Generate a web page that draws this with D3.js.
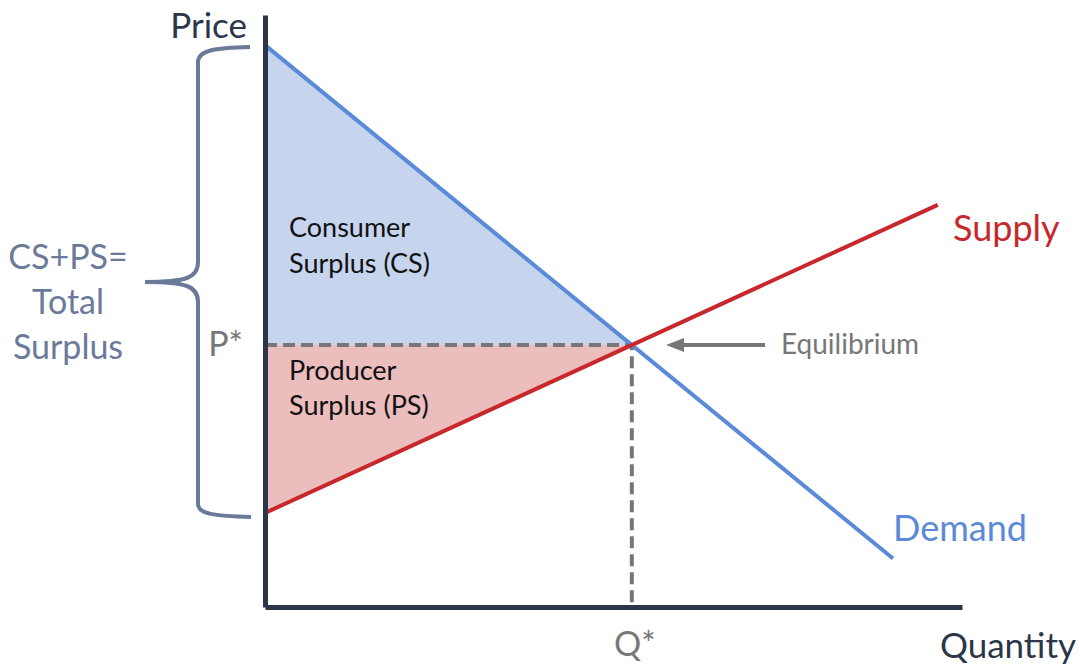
<!DOCTYPE html>
<html>
<head>
<meta charset="utf-8">
<script src="https://cdn.jsdelivr.net/npm/d3@7"></script>
<style>
body { margin: 0; background: #fff; }
text { font-family: Lato, "Open Sans", sans-serif; }
</style>
</head>
<body>
<svg width="1080" height="664"></svg>
<script>
// curves (quantity, price)
var demandQ = [0, 8.56]
var demandP = [21.45, 1.85]
var supplyQ = [0, 9.17]
var supplyP = [3.59, 15.35]
var eqQ = 5, eqP = 10
var axisLabels = ['Price', 'Quantity']
var starLabels = ['P*', 'Q*']
var curveLabels = ['Demand', 'Supply']
var csLines = ['Consumer', 'Surplus (CS)']
var psLines = ['Producer', 'Surplus (PS)']
var totalLines = ['CS+PS=', 'Total', 'Surplus']

var svg = d3.select('svg')

var x = d3.scaleLinear().domain([0, 9.5]).range([265, 962])
var y = d3.scaleLinear().domain([0, 22.6]).range([607, 15])

var blue = '#5b8ad8', red = '#c8282b', grey = '#777777', navy = '#2c3649', slate = '#6b7a99'

// surplus areas
svg.append('path')
    .attr('d', d3.line()([[x(0), y(demandP[0])], [x(eqQ), y(eqP)], [x(0), y(eqP)]]))
    .attr('fill', '#c6d4ed')
svg.append('path')
    .attr('d', d3.line()([[x(0), y(supplyP[0])], [x(eqQ), y(eqP)], [x(0), y(eqP)]]))
    .attr('fill', '#ecbdbd')

// dashed guides
svg.append('path')
    .attr('d', d3.line()([[x(0), y(eqP)], [x(eqQ), y(eqP)], [x(eqQ), y(0)]]))
    .attr('fill', 'none')
    .attr('stroke', grey)
    .attr('stroke-width', 4)
    .attr('stroke-dasharray', '12,6')

// demand and supply
svg.append('line')
    .attr('x1', x(demandQ[0])).attr('y1', y(demandP[0]))
    .attr('x2', x(demandQ[1])).attr('y2', y(demandP[1]))
    .attr('stroke', blue).attr('stroke-width', 4)
svg.append('line')
    .attr('x1', x(supplyQ[0])).attr('y1', y(supplyP[0]))
    .attr('x2', x(supplyQ[1])).attr('y2', y(supplyP[1]))
    .attr('stroke', red).attr('stroke-width', 4)

// axes, no ticks
svg.append('g').attr('transform', 'translate(0,' + y(0) + ')')
    .call(d3.axisBottom(x).tickValues([]).tickSizeOuter(0))
svg.append('g').attr('transform', 'translate(' + x(0) + ',0)')
    .call(d3.axisLeft(y).tickValues([]).tickSizeOuter(0))
svg.selectAll('.domain').attr('stroke', navy).attr('stroke-width', 5)

// brace
var bt = y(demandP[0]) + 2, bb = y(supplyP[0]) + 4, bm = 282
svg.append('path')
    .attr('d', 'M250,' + bt + ' C214,' + (bt + 1) + ' 198,' + (bt + 3) + ' 198,' + (bt + 15)
        + ' L198,' + (bm - 20) + ' C198,' + (bm - 4) + ' 186,' + bm + ' 145,' + bm
        + ' C186,' + bm + ' 198,' + (bm + 4) + ' 198,' + (bm + 20)
        + ' L198,' + (bb - 13) + ' C198,' + (bb - 3) + ' 214,' + (bb - 1) + ' 251,' + bb)
    .attr('fill', 'none').attr('stroke', slate).attr('stroke-width', 4)

// equilibrium arrow
svg.append('line')
    .attr('x1', 765).attr('y1', y(eqP)).attr('x2', 682).attr('y2', y(eqP))
    .attr('stroke', grey).attr('stroke-width', 4)
svg.append('path')
    .attr('d', d3.line()([[666, y(eqP)], [684, y(eqP) - 7], [684, y(eqP) + 7]]))
    .attr('fill', grey)

// labels
function label(t, px, py, size, color, anchor) {
    return svg.append('text').attr('x', px).attr('y', py)
        .attr('font-size', size).attr('fill', color)
        .attr('text-anchor', anchor || 'start').text(t)
}
label(axisLabels[0], 247, 38, 35, navy, 'end')
label(axisLabels[1], 1076, 658, 35, navy, 'end')
label(starLabels[0], 243, 356, 34, grey, 'end')
label(starLabels[1], x(eqQ) + 3, 656, 34, grey, 'middle')
label(curveLabels[0], 893, 541, 36, blue)
label(curveLabels[1], 953, 241, 36, red)
label('Equilibrium', 781, 354, 28, grey)
csLines.forEach(function(t, i) { label(t, 289, 237 + i * 36, 27, '#111') })
psLines.forEach(function(t, i) { label(t, 289, 380 + i * 35, 27, '#111') })
totalLines.forEach(function(t, i) { label(t, 68, 269 + i * 45, 34, slate, 'middle') })
</script>
</body>
</html>
